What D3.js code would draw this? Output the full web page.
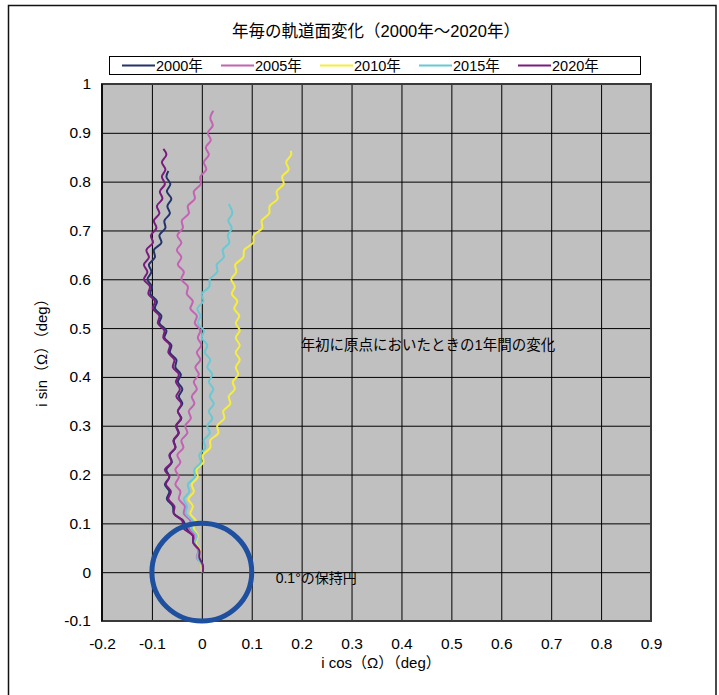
<!DOCTYPE html>
<html>
<head>
<meta charset="utf-8">
<script src="https://cdn.jsdelivr.net/npm/d3@7"></script>
<style>
  html, body { margin: 0; padding: 0; background: #fff; }
  svg text { font-family: "Liberation Sans", "Noto Sans CJK JP", sans-serif; fill: #000; }
</style>
</head>
<body>
<svg id="chart" width="719" height="695"></svg>
<script>
// ---- data ----
const seriesNames = ["2000年", "2005年", "2010年", "2015年", "2020年"];
const seriesColors = ["#24336b", "#c462b4", "#f6ee3a", "#68c9d4", "#7a1c7e"];

const s2000 = [[0,0],[0.001,0.015],[-0.007,0.03],[-0.006,0.045],[-0.017,0.06],[-0.018,0.075],[-0.031,0.09],[-0.037,0.105],[-0.056,0.12],[-0.058,0.135],[-0.07,0.15],[-0.065,0.165],[-0.074,0.18],[-0.065,0.195],[-0.071,0.21],[-0.06,0.225],[-0.064,0.24],[-0.053,0.255],[-0.056,0.27],[-0.046,0.285],[-0.051,0.3],[-0.041,0.315],[-0.048,0.33],[-0.039,0.345],[-0.046,0.36],[-0.039,0.375],[-0.048,0.39],[-0.042,0.405],[-0.053,0.42],[-0.051,0.435],[-0.064,0.45],[-0.061,0.465],[-0.075,0.48],[-0.071,0.495],[-0.085,0.51],[-0.081,0.525],[-0.094,0.54],[-0.09,0.555],[-0.103,0.57],[-0.1,0.585],[-0.109,0.6],[-0.101,0.615],[-0.106,0.63],[-0.094,0.645],[-0.096,0.66],[-0.081,0.675],[-0.085,0.69],[-0.073,0.705],[-0.075,0.72],[-0.064,0.735],[-0.069,0.75],[-0.061,0.765],[-0.07,0.78],[-0.063,0.795],[-0.071,0.81],[-0.067,0.822]];

const s2005 = [[0.001,0],[0,0.015],[-0.01,0.03],[-0.007,0.045],[-0.017,0.06],[-0.015,0.075],[-0.026,0.09],[-0.023,0.105],[-0.036,0.12],[-0.034,0.135],[-0.046,0.15],[-0.043,0.165],[-0.053,0.18],[-0.046,0.195],[-0.053,0.21],[-0.043,0.225],[-0.049,0.24],[-0.037,0.255],[-0.041,0.27],[-0.029,0.285],[-0.033,0.3],[-0.022,0.315],[-0.026,0.33],[-0.015,0.345],[-0.02,0.36],[-0.01,0.375],[-0.016,0.39],[-0.006,0.405],[-0.013,0.42],[-0.003,0.435],[-0.01,0.45],[-0.001,0.465],[-0.008,0.48],[-0.003,0.495],[-0.014,0.51],[-0.01,0.525],[-0.023,0.54],[-0.018,0.555],[-0.03,0.57],[-0.028,0.585],[-0.041,0.6],[-0.036,0.615],[-0.048,0.63],[-0.041,0.645],[-0.05,0.66],[-0.041,0.675],[-0.049,0.69],[-0.038,0.705],[-0.04,0.72],[-0.026,0.735],[-0.028,0.75],[-0.014,0.765],[-0.016,0.78],[-0.002,0.795],[-0.003,0.81],[0.009,0.825],[0.004,0.84],[0.014,0.855],[0.008,0.87],[0.018,0.885],[0.012,0.9],[0.022,0.915],[0.017,0.93],[0.023,0.945]];

const s2010 = [[0,0],[-0.001,0.015],[-0.008,0.03],[-0.004,0.045],[-0.012,0.06],[-0.008,0.075],[-0.016,0.09],[-0.012,0.105],[-0.023,0.12],[-0.018,0.135],[-0.027,0.15],[-0.016,0.165],[-0.02,0.18],[-0.008,0.195],[-0.011,0.21],[0.003,0.225],[0.002,0.24],[0.017,0.255],[0.017,0.27],[0.033,0.285],[0.031,0.3],[0.045,0.315],[0.043,0.33],[0.057,0.345],[0.054,0.36],[0.066,0.375],[0.062,0.39],[0.073,0.405],[0.068,0.42],[0.076,0.435],[0.068,0.45],[0.076,0.465],[0.068,0.48],[0.076,0.495],[0.068,0.51],[0.075,0.525],[0.065,0.54],[0.071,0.555],[0.06,0.57],[0.066,0.585],[0.059,0.6],[0.069,0.615],[0.067,0.63],[0.083,0.645],[0.085,0.66],[0.103,0.675],[0.104,0.69],[0.121,0.705],[0.12,0.72],[0.135,0.735],[0.136,0.75],[0.152,0.765],[0.15,0.78],[0.164,0.795],[0.161,0.81],[0.174,0.825],[0.169,0.84],[0.179,0.855],[0.178,0.863]];

const s2015 = [[0.002,0],[0,0.015],[-0.009,0.03],[-0.006,0.045],[-0.014,0.06],[-0.01,0.075],[-0.021,0.09],[-0.019,0.105],[-0.032,0.12],[-0.03,0.135],[-0.036,0.15],[-0.025,0.165],[-0.028,0.18],[-0.014,0.195],[-0.015,0.21],[-0.002,0.225],[-0.005,0.24],[0.007,0.255],[0.004,0.27],[0.016,0.285],[0.011,0.3],[0.021,0.315],[0.014,0.33],[0.024,0.345],[0.016,0.36],[0.023,0.375],[0.014,0.39],[0.021,0.405],[0.011,0.42],[0.017,0.435],[0.006,0.45],[0.011,0.465],[0,0.48],[0.004,0.495],[-0.008,0.51],[-0.003,0.525],[-0.009,0.54],[0.003,0.555],[0,0.57],[0.015,0.585],[0.016,0.6],[0.031,0.615],[0.03,0.63],[0.044,0.645],[0.042,0.66],[0.055,0.675],[0.052,0.69],[0.06,0.705],[0.053,0.72],[0.061,0.735],[0.054,0.754]];

const s2020 = [[0.002,0],[0.002,0.015],[-0.005,0.03],[-0.005,0.045],[-0.017,0.06],[-0.018,0.075],[-0.037,0.09],[-0.039,0.105],[-0.056,0.12],[-0.055,0.135],[-0.067,0.15],[-0.062,0.165],[-0.072,0.18],[-0.065,0.195],[-0.074,0.21],[-0.061,0.225],[-0.065,0.24],[-0.053,0.255],[-0.057,0.27],[-0.047,0.285],[-0.052,0.3],[-0.042,0.315],[-0.048,0.33],[-0.041,0.345],[-0.051,0.36],[-0.044,0.375],[-0.052,0.39],[-0.046,0.405],[-0.058,0.42],[-0.055,0.435],[-0.067,0.45],[-0.064,0.465],[-0.077,0.48],[-0.075,0.495],[-0.088,0.51],[-0.085,0.525],[-0.098,0.54],[-0.094,0.555],[-0.107,0.57],[-0.104,0.585],[-0.116,0.6],[-0.109,0.615],[-0.116,0.63],[-0.106,0.645],[-0.111,0.66],[-0.098,0.675],[-0.102,0.69],[-0.091,0.705],[-0.096,0.72],[-0.085,0.735],[-0.09,0.75],[-0.079,0.765],[-0.084,0.78],[-0.074,0.795],[-0.08,0.81],[-0.073,0.825],[-0.08,0.84],[-0.071,0.855],[-0.077,0.867]];

const xTicks = [-0.2, -0.1, 0, 0.1, 0.2, 0.3, 0.4, 0.5, 0.6, 0.7, 0.8, 0.9];
const xTickLabels = ["-0.2", "-0.1", "0", "0.1", "0.2", "0.3", "0.4", "0.5", "0.6", "0.7", "0.8", "0.9"];
const yTicks = [-0.1, 0, 0.1, 0.2, 0.3, 0.4, 0.5, 0.6, 0.7, 0.8, 0.9, 1];
const yTickLabels = ["-0.1", "0", "0.1", "0.2", "0.3", "0.4", "0.5", "0.6", "0.7", "0.8", "0.9", "1"];
const holdRadius = 0.1;

const titleText = "年毎の軌道面変化（2000年～2020年）";
const xTitle = "i cos（Ω）（deg）";
const yTitle = "i sin（Ω）（deg）";
const noteText = "年初に原点においたときの1年間の変化";
const circleText = "0.1°の保持円";

// ---- layout ----
const W = 719, H = 695;
const plot = { left: 102, top: 84, right: 651, bottom: 621 };

const svg = d3.select("#chart");
const x = d3.scaleLinear().domain([-0.2, 0.9]).range([plot.left, plot.right]);
const y = d3.scaleLinear().domain([-0.1, 1]).range([plot.bottom, plot.top]);

// outer frame
svg.append("rect").attr("x", 0).attr("y", 0).attr("width", W).attr("height", H).attr("fill", "#fff");
svg.append("rect").attr("x", 8.5).attr("y", 5.5).attr("width", 707.5).attr("height", 720)
  .attr("fill", "none").attr("stroke", "#111").attr("stroke-width", 1.5);

// plot background
svg.append("rect").attr("x", plot.left).attr("y", plot.top)
  .attr("width", plot.right - plot.left).attr("height", plot.bottom - plot.top)
  .attr("fill", "#c0c0c0");

// grid via axes
const gx = svg.append("g").attr("transform", `translate(0,${plot.bottom})`)
  .call(d3.axisBottom(x).tickValues(xTicks).tickSize(-(plot.bottom - plot.top)).tickFormat(""));
gx.select(".domain").remove();
gx.selectAll("line").attr("stroke", "#000").attr("stroke-width", 1);

const gy = svg.append("g").attr("transform", `translate(${plot.left},0)`)
  .call(d3.axisLeft(y).tickValues(yTicks).tickSize(-(plot.right - plot.left)).tickFormat(""));
gy.select(".domain").remove();
gy.selectAll("line").attr("stroke", "#000").attr("stroke-width", 1);

// plot border
svg.append("rect").attr("x", plot.left).attr("y", plot.top)
  .attr("width", plot.right - plot.left).attr("height", plot.bottom - plot.top)
  .attr("fill", "none").attr("stroke", "#3a3a3a").attr("stroke-width", 2);
svg.append("line").attr("x1", plot.left).attr("x2", plot.left).attr("y1", plot.top).attr("y2", plot.bottom)
  .attr("stroke", "#000").attr("stroke-width", 1.5);

// tick labels
const lx = svg.append("g").attr("transform", `translate(0,${plot.bottom})`)
  .call(d3.axisBottom(x).tickValues(xTicks).tickSize(0).tickPadding(17)
    .tickFormat((d, i) => xTickLabels[i]));
lx.select(".domain").remove();
lx.selectAll("text").attr("font-size", 15.5).style("font-family", "Liberation Sans, sans-serif");

const ly = svg.append("g").attr("transform", `translate(${plot.left},0)`)
  .call(d3.axisLeft(y).tickValues(yTicks).tickSize(0).tickPadding(11)
    .tickFormat((d, i) => yTickLabels[i]));
ly.select(".domain").remove();
ly.selectAll("text").attr("font-size", 15.5).style("font-family", "Liberation Sans, sans-serif");

// series lines
const line = d3.line().x(d => x(d[0])).y(d => y(d[1])).curve(d3.curveCatmullRom.alpha(0.5));
const allSeries = [s2000, s2005, s2010, s2015, s2020];
svg.append("g").selectAll("path").data(allSeries).join("path")
  .attr("d", line)
  .attr("fill", "none")
  .attr("stroke", (d, i) => seriesColors[i])
  .attr("stroke-width", 2)
  .attr("stroke-linejoin", "round");

// 0.1 deg holding circle (in data units)
svg.append("ellipse")
  .attr("cx", x(0)).attr("cy", y(0))
  .attr("rx", x(holdRadius) - x(0)).attr("ry", y(0) - y(holdRadius))
  .attr("fill", "none").attr("stroke", "#1f4f9f").attr("stroke-width", 5);

// annotations
svg.append("text").attr("x", x(0.198)).attr("y", y(0.455)).attr("font-size", 14.5)
  .text(noteText);
svg.append("text").attr("x", x(0.148)).attr("y", y(-0.022)).attr("font-size", 14)
  .text(circleText);

// title
svg.append("text").attr("x", 376).attr("y", 37).attr("text-anchor", "middle")
  .attr("font-size", 16.5).text(titleText);

// axis titles
svg.append("text").attr("x", 381).attr("y", 668).attr("text-anchor", "middle")
  .attr("font-size", 15).text(xTitle);
svg.append("text").attr("transform", "translate(47,349) rotate(-90)").attr("text-anchor", "middle")
  .attr("font-size", 15).text(yTitle);

// legend
const lg = svg.append("g");
lg.append("rect").attr("x", 109.5).attr("y", 56.5).attr("width", 531).attr("height", 18)
  .attr("fill", "#fff").attr("stroke", "#000").attr("stroke-width", 1);
const items = lg.selectAll("g.item").data(seriesNames).join("g")
  .attr("class", "item")
  .attr("transform", (d, i) => `translate(${122 + i * 99},65.5)`);
items.append("line").attr("x1", 0).attr("x2", 33).attr("y1", 0).attr("y2", 0)
  .attr("stroke", (d, i) => seriesColors[i]).attr("stroke-width", 2);
items.append("text").attr("x", 34).attr("y", 5.5).attr("font-size", 14.5).text(d => d);
</script>
</body>
</html>
